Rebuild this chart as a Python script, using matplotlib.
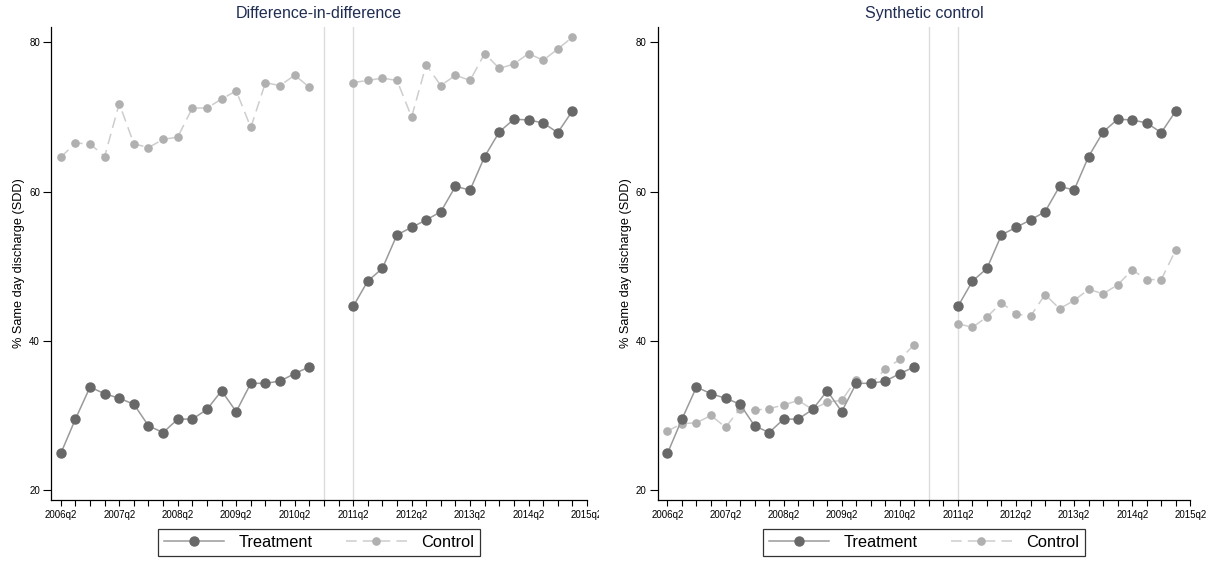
import numpy as np
import matplotlib
matplotlib.use("Agg")
import matplotlib.pyplot as plt
from matplotlib.transforms import Bbox, TransformedBbox

plt.rcParams['font.family'] = ['Liberation Sans', 'DejaVu Sans']

# quarters 2006q2 .. 2015q2 (index 0 .. 36); gap at 2010q4, 2011q1
n_quarters = 37
pre_idx = list(range(0, 18))      # 2006q2 - 2010q3
post_idx = list(range(20, 36))    # 2011q2 - 2015q1
cut_lines = [18, 20]              # 2010q4, 2011q2

treat_pre = [24.9, 29.5, 33.8, 32.9, 32.3, 31.5, 28.6, 27.7, 29.5, 29.5,
             30.8, 33.3, 30.5, 34.3, 34.3, 34.6, 35.6, 36.5]
treat_post = [44.6, 48.0, 49.7, 54.2, 55.2, 56.2, 57.3, 60.7, 60.2, 64.7,
              68.0, 69.7, 69.6, 69.2, 67.9, 70.8]

did_ctrl_pre = [64.6, 66.5, 66.4, 64.7, 71.8, 66.4, 65.9, 67.0, 67.3, 71.2,
                71.2, 72.4, 73.5, 68.6, 74.6, 74.2, 75.6, 74.0]
did_ctrl_post = [74.6, 74.9, 75.2, 74.9, 70.0, 77.0, 74.2, 75.6, 74.9, 78.5,
                 76.5, 77.1, 78.5, 77.6, 79.1, 80.7]

syn_ctrl_pre = [27.9, 28.9, 29.0, 30.0, 28.4, 30.9, 30.7, 30.9, 31.4, 32.0,
                30.8, 31.8, 32.0, 34.8, 34.2, 36.2, 37.5, 39.5]
syn_ctrl_post = [42.3, 41.8, 43.2, 45.1, 43.6, 43.3, 46.2, 44.3, 45.4, 46.9,
                 46.3, 47.5, 49.5, 48.2, 48.2, 52.2]

titles = ["Difference-in-difference", "Synthetic control"]
ylabel = "% Same day discharge (SDD)"
yticks = [20, 40, 60, 80]


def quarter_label(i):
    return f"{2006 + (i + 1) // 4}q{(i + 1) % 4 + 1}"


def full_series(pre, post):
    s = np.full(n_quarters, np.nan)
    s[pre_idx] = pre
    s[post_idx] = post
    return s


x = np.arange(n_quarters)
treat = full_series(treat_pre, treat_post)
controls = [full_series(did_ctrl_pre, did_ctrl_post),
            full_series(syn_ctrl_pre, syn_ctrl_post)]
major = list(range(0, n_quarters, 4))

fig = plt.figure(figsize=(12.19, 5.63), dpi=100)
boxes = [[51 / 1219, 0.1119, (587 - 51) / 1219, 0.8407],
         [657.7 / 1219, 0.1119, (1190.3 - 657.7) / 1219, 0.8407]]

for k, (box, title, ctrl) in enumerate(zip(boxes, titles, controls)):
    ax = fig.add_axes(box)
    for c in cut_lines:
        ax.axvline(c, color='#dcdcdc', lw=1.0, zorder=1)
    ax.plot(x, treat, color='#9a9a9a', lw=1.1, marker='o', ms=6.5,
            mfc='#686868', mec='#686868', label='Treatment', zorder=3)
    ax.plot(x, ctrl, color='#cdcdcd', lw=1.1, ls=(0, (7, 4)), marker='o',
            ms=5.2, mfc='#b0b0b0', mec='#b0b0b0', label='Control', zorder=2)

    ax.set_xlim(-0.67, 36)
    ax.set_ylim(18.66, 82.1)
    ax.set_yticks(yticks)
    ax.set_xticks(major)
    labels = [quarter_label(i) for i in major]
    if k == 0:
        labels[-1] = ""
    ax.set_xticklabels(labels)
    ax.set_xticks(range(n_quarters), minor=True)
    ax.tick_params(axis='x', which='both', length=4, width=0.8, labelsize=7,
                   pad=3)
    ax.tick_params(axis='y', length=6, width=0.8, labelsize=7, pad=2)
    for s in ['top', 'right']:
        ax.spines[s].set_visible(False)
    for s in ['left', 'bottom']:
        ax.spines[s].set_linewidth(0.9)

    ax.set_title(title, color='#1f2d52', fontsize=11.5, pad=6.5)
    ax.set_ylabel(ylabel, fontsize=9.2, labelpad=3)

    leg = ax.legend(loc='upper center', bbox_to_anchor=(0.5, -0.062),
                    ncol=2, fontsize=11.8, frameon=True, fancybox=False,
                    edgecolor='black', handlelength=3.7, handletextpad=0.9,
                    columnspacing=2.0, borderpad=0.35, borderaxespad=0)
    leg.get_frame().set_linewidth(0.9)

    if k == 0:
        # last label is cut off by the panel edge in the original
        tr = ax.get_xaxis_text1_transform(3 + 4)[0]
        t = ax.text(major[-1], 0, quarter_label(major[-1]), transform=tr,
                    ha='center', va='top', fontsize=7, clip_on=True)
        t.set_clip_box(TransformedBbox(Bbox([[0, 0], [599 / 1219, 1]]),
                                       fig.transFigure))

fig.savefig("out.png", dpi=100)
